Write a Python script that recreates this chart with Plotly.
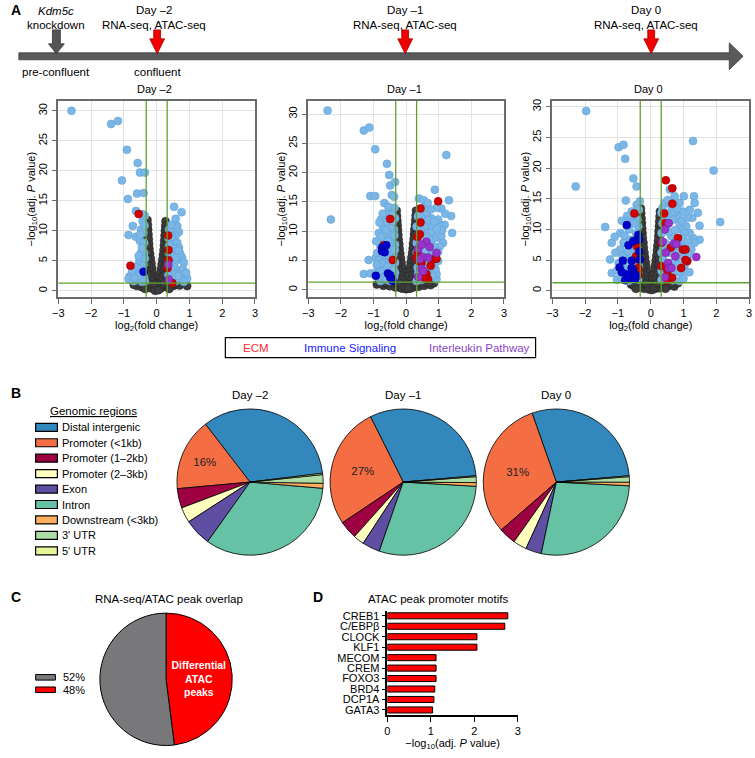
import plotly.graph_objects as go

W, H = 755, 758

# ---------------- data ----------------
fc_cut = 0.32   # log2 fold-change cut-off
p_cut = 1.3     # -log10(0.05)

volcano_days = ["Day –2", "Day –1", "Day 0"]

# Day -2 volcano: (log2 FC, -log10 adj P)
d2_ns = [(-0.28, 11.8), (-0.27, 11.0), (-0.26, 10.2), (-0.25, 9.4), (-0.24, 8.6), (-0.23, 7.8), (-0.22, 7.0),
         (-0.20, 6.2), (-0.18, 5.4), (-0.16, 4.6), (-0.14, 3.8), (-0.12, 3.0), (-0.10, 2.3), (-0.08, 1.6),
         (-0.29, 10.6), (-0.30, 9.0), (-0.29, 7.6), (-0.27, 6.4), (-0.26, 5.2), (-0.24, 4.2), (-0.22, 3.4),
         (-0.20, 2.6), (-0.18, 1.9), (-0.30, 4.5), (-0.30, 3.2), (-0.30, 2.0), (-0.27, 2.8),
         (0.27, 11.6), (0.26, 10.8), (0.25, 10.0), (0.24, 9.2), (0.23, 8.4), (0.22, 7.6), (0.21, 6.8),
         (0.19, 6.0), (0.17, 5.2), (0.15, 4.4), (0.13, 3.6), (0.11, 2.8), (0.09, 2.1), (0.07, 1.4),
         (0.29, 10.3), (0.30, 8.8), (0.29, 7.3), (0.28, 6.1), (0.26, 5.0), (0.24, 4.0), (0.22, 3.2),
         (0.20, 2.4), (0.17, 1.7), (0.30, 4.6), (0.30, 3.0), (0.30, 1.9), (0.27, 2.7),
         (-0.70, 1.0), (-0.60, 0.8), (-0.50, 1.1), (-0.45, 0.6), (-0.38, 0.9), (-0.30, 0.5), (-0.22, 0.8),
         (-0.15, 0.4), (-0.06, 0.7), (0.00, 0.2), (0.06, 0.5), (0.12, 0.9), (0.20, 0.6), (0.28, 1.0),
         (0.35, 0.7), (0.42, 1.1), (0.50, 0.8), (0.60, 1.0), (0.70, 0.9), (0.93, 0.8), (-0.02, 1.2),
         (0.03, 1.0), (-0.10, 1.1), (0.10, 0.3), (-0.25, 1.2), (0.22, 1.2), (-0.55, 1.2), (0.55, 1.2),
         (-0.35, 0.3), (0.38, 0.3), (-0.05, 0.0), (0.05, 0.1)]
d2_sig = [(-2.60, 30.0), (-1.39, 27.8), (-1.18, 28.3), (-0.91, 23.5), (-0.58, 21.3), (-0.51, 19.7),
          (-0.36, 19.7), (-1.06, 18.4), (-0.88, 15.3), (-0.60, 16.2), (-0.40, 16.3), (-0.63, 13.3),
          (0.53, 14.0), (0.76, 13.1), (-0.73, 10.8), (-0.86, 9.3), (-0.63, 9.0), (-0.51, 8.3), (-0.43, 11.6),
          (-0.48, 10.2), (-0.40, 9.7), (-0.38, 8.0), (-0.48, 6.3), (-0.38, 6.3), (-0.53, 4.9), (-0.40, 4.4),
          (-0.63, 3.0), (-0.83, 2.4), (-0.86, 2.0), (-0.58, 1.9), (-0.48, 3.0), (-0.38, 2.2), (-0.70, 1.6),
          (-0.45, 1.5), (-0.36, 12.5), (-0.44, 12.8), (-0.37, 10.9), (-0.45, 7.2), (-0.36, 5.4), (-0.42, 3.6),
          (-0.55, 2.5), (-0.68, 2.2), (-0.36, 1.6), (-0.65, 4.0), (-0.75, 3.3), (-0.55, 5.8), (-0.50, 9.4),
          (0.43, 9.7), (0.53, 10.8), (0.63, 10.8), (0.68, 9.8), (0.43, 8.5), (0.48, 7.4), (0.38, 6.3),
          (0.53, 6.0), (0.63, 8.0), (0.41, 5.2), (0.55, 4.7), (0.73, 5.2), (0.78, 5.5), (0.83, 4.7),
          (0.63, 3.5), (0.48, 3.0), (0.38, 3.8), (0.73, 3.0), (0.88, 2.2), (0.93, 2.0), (0.73, 1.9),
          (0.58, 1.6), (0.43, 1.6), (0.83, 1.5), (0.38, 10.2), (0.36, 8.8), (0.58, 9.2), (0.45, 11.0),
          (0.68, 7.2), (0.60, 5.6), (0.50, 4.0), (0.66, 2.5), (0.36, 2.6), (0.80, 3.6), (0.55, 7.0),
          (0.38, 7.5), (0.72, 6.2), (0.40, 4.6), (0.47, 9.0), (0.58, 12.0), (0.66, 6.7), (0.90, 3.0)]
d2_ecm = [(-0.55, 12.8), (-0.80, 4.2), (0.35, 9.2), (0.36, 6.8), (0.36, 5.1), (0.33, 3.8), (0.48, 1.3)]
d2_immune = [(-0.40, 3.2)]
d2_il = [(0.35, 4.4), (0.37, 1.9)]

# Day -1 volcano
d1_ns = [(-0.29, 13.5), (-0.28, 12.6), (-0.27, 11.8), (-0.26, 11.0), (-0.25, 10.2), (-0.24, 9.4), (-0.23, 8.6),
         (-0.21, 7.8), (-0.20, 7.0), (-0.18, 6.2), (-0.16, 5.4), (-0.14, 4.6), (-0.12, 3.8), (-0.10, 3.0),
         (-0.08, 2.3), (-0.30, 11.4), (-0.30, 9.8), (-0.29, 8.2), (-0.28, 6.8), (-0.26, 5.6), (-0.25, 4.4),
         (-0.23, 3.4), (-0.20, 2.6), (-0.17, 1.8), (-0.30, 3.0), (-0.30, 2.0), (-0.28, 5.0),
         (0.30, 13.5), (0.29, 12.7), (0.28, 11.9), (0.27, 11.1), (0.25, 10.3), (0.24, 9.5), (0.23, 8.7),
         (0.21, 7.9), (0.20, 7.1), (0.18, 6.3), (0.16, 5.5), (0.14, 4.7), (0.12, 3.9), (0.10, 3.1),
         (0.08, 2.4), (0.30, 11.0), (0.30, 9.4), (0.30, 7.8), (0.28, 6.6), (0.27, 5.4), (0.25, 4.3),
         (0.23, 3.3), (0.20, 2.5), (0.17, 1.8), (0.30, 4.0), (0.30, 2.6), (0.29, 1.6),
         (-0.90, 0.9), (-0.80, 1.1), (-0.70, 0.7), (-0.60, 1.0), (-0.50, 0.6), (-0.40, 1.1), (-0.33, 0.4),
         (-0.25, 0.8), (-0.17, 0.3), (-0.08, 0.9), (0.00, 0.1), (0.07, 0.6), (0.15, 1.0), (0.22, 0.4),
         (0.30, 0.9), (0.38, 0.5), (0.45, 1.1), (0.55, 0.7), (0.65, 1.0), (0.75, 0.8), (0.85, 1.1),
         (-0.03, 1.2), (0.03, 0.9), (-0.12, 0.2), (0.12, 0.2), (-0.45, 1.2), (0.50, 1.2), (-0.20, 1.2),
         (0.25, 1.2), (-0.05, 0.4), (0.05, 0.3), (-0.65, 1.2), (0.70, 1.2)]
d1_sig = [(-2.41, 30.6), (-2.31, 12.0), (-1.30, 27.2), (-1.13, 27.7), (-0.95, 24.0), (-0.59, 21.5),
          (-0.52, 19.6), (-0.49, 17.8), (-0.34, 18.4), (-1.10, 16.0), (-0.95, 16.0), (-0.67, 14.8),
          (-0.44, 16.2), (-0.37, 15.9), (-1.15, 5.1), (-1.30, 2.7), (-1.10, 2.8), (-0.93, 5.5),
          (-0.64, 12.0), (-0.71, 10.8), (-0.54, 9.7), (-0.44, 8.6), (-0.69, 8.0), (-0.79, 7.4), (-0.54, 6.9),
          (-0.39, 6.0), (-0.59, 5.2), (-0.69, 4.1), (-0.49, 3.5), (-0.34, 2.9), (-0.64, 2.4), (-0.79, 1.5),
          (-0.49, 1.5), (-0.84, 9.7), (-0.77, 12.0), (-0.57, 13.1), (-0.44, 13.6), (-0.34, 12.2),
          (-0.37, 10.3), (-0.34, 7.7), (-0.51, 11.1), (-0.61, 8.9), (-0.89, 6.3), (-0.74, 5.8), (-0.84, 3.8),
          (-0.95, 2.9), (-0.54, 4.6), (-0.41, 4.1), (-0.69, 3.2), (-0.34, 4.6), (-0.49, 8.0), (-0.69, 9.4),
          (-0.36, 14.0), (-0.42, 12.9), (-0.58, 11.6), (-0.47, 10.6), (-0.62, 10.2), (-0.78, 9.0),
          (-0.56, 8.3), (-0.36, 9.3), (-0.66, 7.0), (-0.85, 5.0), (-0.48, 6.6), (-0.62, 6.0), (-0.45, 5.3),
          (-0.75, 4.5), (-0.58, 3.9), (-0.90, 4.3), (-0.38, 3.4), (-0.70, 2.0), (-0.86, 2.2), (-0.60, 1.7),
          (-0.37, 2.2), (-0.55, 14.2), (-0.72, 13.0), (-0.82, 11.5), (-0.92, 8.3), (-0.41, 11.7),
          (-0.52, 7.4), (-0.35, 6.8),
          (1.23, 23.0), (0.88, 17.1), (0.39, 15.6), (0.54, 15.3), (1.31, 15.3), (1.38, 12.6), (1.41, 9.7),
          (1.08, 13.9), (0.93, 14.0), (1.18, 11.1), (1.01, 11.2), (1.13, 8.0), (0.75, 13.7), (0.62, 12.8),
          (0.47, 12.2), (0.72, 10.8), (0.83, 9.4), (0.93, 8.9), (0.52, 10.3), (0.37, 9.1), (0.40, 7.4),
          (0.57, 8.0), (1.03, 7.4), (0.72, 6.3), (0.83, 4.1), (0.52, 3.8), (0.37, 5.2), (0.37, 2.9),
          (0.52, 1.8), (0.72, 2.1), (0.93, 1.8), (0.32, 1.5), (0.93, 2.7), (0.67, 2.9), (0.88, 5.8),
          (0.98, 4.9), (1.08, 9.2), (0.52, 11.4), (0.32, 10.8), (0.67, 9.7), (0.77, 8.0), (0.47, 6.3),
          (0.62, 5.2), (0.32, 6.3), (0.32, 8.0), (0.42, 13.8), (0.57, 10.8), (0.77, 12.2), (0.98, 12.0),
          (0.36, 12.5), (0.58, 14.2), (0.68, 11.9), (0.86, 11.6), (0.45, 10.0), (0.62, 9.0), (0.78, 9.9),
          (0.36, 8.4), (0.52, 7.4), (0.68, 7.0), (0.86, 7.3), (0.42, 6.0), (0.58, 6.6), (0.78, 5.6),
          (0.98, 6.5), (0.55, 4.4), (0.70, 4.8), (0.90, 3.5), (0.42, 3.0), (0.60, 3.6), (0.80, 2.4),
          (0.45, 1.7), (0.35, 3.8), (1.10, 10.2), (1.20, 13.0), (0.94, 10.4), (0.40, 12.9), (0.66, 14.8)]
d1_ecm = [(-0.69, 7.6), (-0.49, 12.1), (-0.41, 5.1), (0.44, 13.9), (0.44, 11.5), (0.42, 9.5), (0.35, 9.0),
          (0.98, 15.1), (0.35, 6.3), (0.32, 5.5), (0.39, 4.9), (0.47, 4.6), (0.75, 4.1), (0.83, 5.2),
          (0.93, 5.3), (0.62, 2.7), (0.67, 1.8), (0.57, 2.0)]
d1_immune = [(-0.74, 7.2), (-0.74, 6.6), (-0.61, 7.6), (-0.66, 6.4), (-0.93, 2.4), (-0.56, 2.8),
             (-0.49, 2.5), (-0.44, 1.9), (-0.41, 1.5), (-0.49, 2.1)]
d1_il = [(0.62, 8.2), (0.72, 7.3), (0.37, 7.0), (0.93, 6.3), (0.67, 5.5), (0.50, 5.6), (0.42, 5.2),
         (0.47, 3.6), (0.52, 3.2), (0.37, 2.2), (0.47, 7.7)]

# Day 0 volcano
d0_ns = [(-0.30, 13.4), (-0.29, 12.6), (-0.28, 11.8), (-0.27, 11.0), (-0.26, 10.2), (-0.25, 9.4), (-0.24, 8.6),
         (-0.22, 7.8), (-0.21, 7.0), (-0.19, 6.2), (-0.17, 5.4), (-0.15, 4.6), (-0.13, 3.8), (-0.11, 3.0),
         (-0.09, 2.3), (-0.30, 11.2), (-0.31, 9.6), (-0.30, 8.0), (-0.29, 6.6), (-0.27, 5.4), (-0.25, 4.3),
         (-0.23, 3.4), (-0.20, 2.6), (-0.17, 1.8), (-0.31, 3.2), (-0.30, 2.1), (-0.29, 4.8),
         (0.28, 12.9), (0.27, 12.1), (0.26, 11.3), (0.25, 10.5), (0.24, 9.7), (0.23, 8.9), (0.22, 8.1),
         (0.20, 7.3), (0.19, 6.5), (0.17, 5.7), (0.15, 4.9), (0.13, 4.1), (0.11, 3.3), (0.09, 2.6),
         (0.07, 1.9), (0.29, 10.8), (0.30, 9.2), (0.29, 7.6), (0.28, 6.3), (0.26, 5.2), (0.24, 4.2),
         (0.22, 3.3), (0.19, 2.5), (0.15, 1.7), (0.30, 3.8), (0.30, 2.5), (0.28, 1.6),
         (-0.60, 1.0), (-0.50, 0.7), (-0.42, 1.1), (-0.35, 0.5), (-0.28, 0.9), (-0.20, 0.3), (-0.12, 0.8),
         (-0.05, 0.2), (0.02, 0.6), (0.08, 1.0), (0.14, 0.3), (0.20, 0.8), (0.27, 0.4), (0.34, 1.0),
         (0.41, 0.6), (0.48, 1.1), (0.56, 0.8), (0.64, 1.0), (0.72, 0.7), (0.83, 1.2), (-0.02, 1.1),
         (0.04, 0.1), (-0.08, 0.5), (0.10, 0.5), (-0.30, 1.2), (0.30, 1.2), (-0.15, 1.2), (0.18, 1.2),
         (-0.55, 1.2), (0.60, 1.2), (-0.45, 0.3), (0.45, 0.3)]
d0_sig = [(-1.97, 29.3), (-2.29, 17.0), (-0.98, 23.4), (-0.83, 23.8), (-0.78, 21.5), (-0.53, 18.3),
          (-0.43, 17.0), (1.29, 24.4), (1.92, 19.6), (1.01, 15.4), (1.32, 15.4), (2.12, 11.2), (1.49, 10.6),
          (1.49, 8.3), (1.29, 8.6), (-1.39, 10.4), (-1.19, 7.8), (-1.24, 5.1), (-0.76, 14.7), (-0.33, 14.6),
          (-0.58, 12.9), (-0.43, 14.0), (-0.73, 10.5), (-0.93, 9.4), (-0.83, 7.8), (-0.93, 6.7),
          (-0.63, 8.3), (-0.53, 6.7), (-0.78, 5.9), (-0.98, 4.5), (-0.88, 3.5), (-0.68, 4.0), (-0.58, 2.7),
          (-0.73, 2.1), (-0.43, 4.5), (-0.38, 10.5), (-0.40, 11.6), (-0.63, 11.9), (-0.48, 7.8),
          (-1.08, 6.2), (-1.19, 2.9), (-1.03, 1.8), (-0.38, 2.9), (-0.38, 1.8),
          (-0.36, 13.2), (-0.50, 11.0), (-0.66, 10.0), (-0.80, 9.0), (-0.45, 9.3), (-0.56, 7.3),
          (-0.70, 6.4), (-0.86, 5.6), (-0.40, 6.8), (-0.62, 5.3), (-1.02, 3.3), (-0.78, 3.2), (-0.50, 4.2),
          (-0.90, 2.2), (-0.68, 1.6), (-0.55, 2.1), (-0.36, 4.0), (-0.72, 12.2), (-0.88, 11.4), (-1.10, 8.8),
          (0.58, 16.5), (0.73, 15.4), (0.43, 14.3), (0.63, 13.8), (0.88, 14.3), (0.98, 12.9), (1.19, 13.2),
          (1.27, 11.9), (0.83, 12.1), (1.08, 10.5), (1.19, 9.4), (0.93, 10.0), (0.68, 11.6), (0.48, 10.5),
          (0.33, 9.4), (0.43, 7.8), (0.63, 8.9), (0.83, 7.8), (1.03, 7.3), (1.24, 6.7), (0.98, 5.6),
          (0.78, 5.1), (0.58, 6.2), (0.38, 5.1), (0.48, 3.7), (0.73, 2.9), (0.93, 2.9), (0.58, 2.1),
          (0.33, 1.8), (0.88, 1.6), (1.03, 4.0), (1.13, 5.1), (0.33, 12.7), (0.43, 11.6), (0.88, 11.0),
          (1.34, 7.8), (0.33, 6.2), (0.33, 3.2), (0.68, 7.3), (1.03, 9.4), (1.34, 14.3), (1.44, 12.7),
          (0.36, 11.0), (0.52, 12.6), (0.72, 12.8), (0.55, 9.6), (0.75, 9.9), (0.98, 8.4), (1.14, 8.0),
          (0.38, 7.0), (0.52, 7.4), (0.72, 6.2), (0.88, 6.5), (1.15, 6.0), (0.45, 4.5), (0.65, 4.6),
          (0.85, 4.2), (1.18, 3.0), (0.40, 2.6), (0.68, 1.7), (1.00, 2.0), (0.80, 13.4), (0.95, 11.4),
          (1.12, 11.9), (0.36, 13.5), (0.52, 14.8), (0.85, 3.1)]
d0_ecm = [(-0.50, 12.6), (-0.38, 8.6), (-0.38, 8.2), (-0.43, 7.3), (-0.45, 5.6), (-0.40, 5.1), (-0.38, 3.7),
          (-0.38, 3.2), (-0.38, 2.5), (0.46, 18.0), (0.66, 16.7), (0.66, 14.2), (0.41, 12.6), (0.43, 11.0),
          (0.83, 8.6), (0.33, 7.8), (0.61, 7.0), (0.98, 6.7), (1.06, 6.7), (1.11, 4.8), (0.93, 3.7),
          (0.33, 4.0), (0.51, 3.2), (0.51, 1.7), (0.65, 2.1), (1.06, 5.0)]
d0_immune = [(-0.73, 10.7), (-0.68, 7.4), (-0.53, 8.1), (-0.38, 9.1), (-0.35, 8.3), (-0.35, 6.4), (-0.33, 5.1),
             (-0.85, 4.9), (-0.58, 4.9), (-0.95, 3.8), (-0.88, 3.0), (-0.73, 2.7), (-0.63, 2.1), (-0.53, 3.2),
             (-0.48, 1.8), (-0.58, 3.7), (-0.78, 1.7), (-0.43, 2.4)]
d0_il = [(0.55, 11.0), (0.43, 10.0), (0.36, 8.0), (0.71, 7.7), (0.78, 7.6), (0.46, 6.2), (0.53, 4.5),
         (0.55, 3.7), (0.75, 5.6), (1.39, 5.5), (0.43, 2.2), (0.63, 3.7)]

gene_sets = ["ECM", "Immune Signaling", "Interleukin Pathway"]

# B: genomic annotation of ATAC peaks (%)
region_labels = ["Distal intergenic", "Promoter (<1kb)", "Promoter (1–2kb)", "Promoter (2–3kb)", "Exon",
                 "Intron", "Downstream (<3kb)", "3' UTR", "5' UTR"]
pie_days = ["Day –2", "Day –1", "Day 0"]
regions_d2 = [33.5, 16.0, 4.3, 3.4, 6.0, 33.5, 1.1, 1.9, 0.3]
regions_d1 = [31.0, 27.0, 4.0, 2.4, 3.9, 29.4, 0.8, 1.3, 0.2]
regions_d0 = [29.0, 31.0, 3.8, 3.0, 3.5, 27.5, 0.8, 1.2, 0.2]

# C: RNA-seq / ATAC overlap (%)
overlap_labels = ["Differential ATAC peaks", "Other"]
overlap_values = [48, 52]

# D: promoter motifs
motifs = ["CREB1", "C/EBPβ", "CLOCK", "KLF1", "MECOM", "CREM", "FOXO3", "BRD4", "DCP1A", "GATA3"]
motif_scores = [2.77, 2.70, 2.06, 2.06, 1.12, 1.12, 1.12, 1.09, 1.07, 1.04]

# ---------------- styling ----------------
FONT = "Arial, 'Liberation Sans', sans-serif"
C_NS, C_SIG = "#3c3c3c", "#7ab6e6"
C_ECM, C_IMM, C_IL = "#d00000", "#0000cc", "#9933cc"
GREEN = "#5ea332"
region_colors = ["#3288BD", "#F46D43", "#9E0142", "#FFFFBF", "#5E4FA2", "#66C2A5", "#FDAE61", "#ABDDA4",
                 "#E6F598"]


def px(x):
    return x / W


def py(y):
    return 1 - y / H


def label(x, y, text, size=11, color="black", xanchor="center", **kw):
    return dict(x=px(x), y=py(y), xref="paper", yref="paper", text=text, showarrow=False,
                font=dict(size=size, color=color, family=FONT), xanchor=xanchor, yanchor="middle", **kw)


def down_arrow(cx, top, neck, tip, shaft, head, fill, edge):
    pts = [(cx - shaft / 2, top), (cx + shaft / 2, top), (cx + shaft / 2, neck), (cx + head / 2, neck),
           (cx, tip), (cx - head / 2, neck), (cx - shaft / 2, neck)]
    path = "M " + " L ".join(f"{px(a):.5f},{py(b):.5f}" for a, b in pts) + " Z"
    return dict(type="path", xref="paper", yref="paper", path=path, fillcolor=fill,
                line=dict(color=edge, width=0.8))


fig = go.Figure()

# ---------------- A: volcano plots ----------------
volcanoes = [
    (d2_ns, d2_sig, d2_ecm, d2_immune, d2_il),
    (d1_ns, d1_sig, d1_ecm, d1_immune, d1_il),
    (d0_ns, d0_sig, d0_ecm, d0_immune, d0_il),
]
vol_x = [(53, 252), (306, 504), (553, 752)]
vol_yrange = [[-1.0, 31.7], [-1.2, 32.3], [-1.0, 31.0]]
vol_top, vol_bot = 99, 296

groups = [(C_NS, "#222222"), (C_SIG, "#5f9fd4"), (C_ECM, "#900000"), (C_IMM, "#000088"), (C_IL, "#6a1f99")]

shapes = []
annotations = []

for i, sets in enumerate(volcanoes):
    ax = "" if i == 0 else str(i + 1)
    for pts, (col, edge) in zip(sets, groups):
        fig.add_trace(go.Scatter(
            x=[p[0] for p in pts], y=[p[1] for p in pts], mode="markers",
            marker=dict(size=8, color=col, line=dict(color=edge, width=0.5)),
            xaxis="x" + ax, yaxis="y" + ax, showlegend=False, hoverinfo="skip",
        ))
    x0, x1 = vol_x[i]
    fig.update_layout(**{
        "xaxis" + ax: dict(
            domain=[px(x0), px(x1)], anchor="y" + ax, range=[-3, 3], dtick=1,
            showgrid=True, gridcolor="#e2e2e2", zeroline=False,
            showline=True, mirror=True, linecolor="#6b6b6b", linewidth=1.5,
            ticks="outside", ticklen=5, tickcolor="#6b6b6b",
            tickfont=dict(size=11, color="black"),
            title=dict(text="log<sub>2</sub>(fold change)", font=dict(size=11, color="black"), standoff=0),
        ),
        "yaxis" + ax: dict(
            domain=[py(vol_bot), py(vol_top)], anchor="x" + ax, range=vol_yrange[i], dtick=5,
            showgrid=True, gridcolor="#e2e2e2", zeroline=False,
            showline=True, mirror=True, linecolor="#6b6b6b", linewidth=1.5,
            ticks="outside", ticklen=5, tickcolor="#6b6b6b", tickangle=-90,
            tickfont=dict(size=11, color="black"),
        ),
    })
    for xv in (-fc_cut, fc_cut):
        shapes.append(dict(type="line", xref="x" + ax, yref="y" + ax + " domain", x0=xv, x1=xv, y0=0, y1=1,
                           line=dict(color=GREEN, width=1.3)))
    shapes.append(dict(type="line", xref="x" + ax + " domain", yref="y" + ax, x0=0, x1=1, y0=p_cut, y1=p_cut,
                       line=dict(color=GREEN, width=1.3)))
    annotations.append(label((x0 + x1) / 2 - 2, 87, volcano_days[i], size=11))
    annotations.append(label(x0 - 27, (vol_top + vol_bot) / 2, "−log<sub>10</sub>(adj. <i>P</i> value)",
                             textangle=-90))

# gene set key box
shapes.append(dict(type="rect", xref="paper", yref="paper", x0=px(222), x1=px(536), y0=py(357), y1=py(337),
                   line=dict(color="black", width=1.2), fillcolor="white"))
for name, xc, col in zip(gene_sets, [253, 348, 479], ["#ff2a2a", "#2222ff", "#8a44c4"]):
    annotations.append(label(xc, 347.5, name, size=11.5, color=col))

# ---------------- A: timeline ----------------
bar = [(13, 51), (732, 51), (732, 41), (746, 54.5), (732, 68), (732, 58), (13, 58)]
shapes.append(dict(type="path", xref="paper", yref="paper",
                   path="M " + " L ".join(f"{px(a):.5f},{py(b):.5f}" for a, b in bar) + " Z",
                   fillcolor="#5a5a5a", line=dict(color="#3c3c3c", width=0.8)))
shapes.append(down_arrow(51, 28, 42, 52, 8, 16, "#555555", "#333333"))
for cx in (153, 404, 653):
    shapes.append(down_arrow(cx, 28, 37, 52, 7, 15, "#f00000", "#a80000"))

annotations += [
    label(51, 9, "<i>Kdm5c</i>", size=11.5), label(51, 23, "knockdown", size=11.5),
    label(150, 8, "Day –2", size=11.5), label(150, 23, "RNA-seq, ATAC-seq", size=11.5),
    label(404, 8, "Day –1", size=11.5), label(404, 23, "RNA-seq, ATAC-seq", size=11.5),
    label(648, 8, "Day 0", size=11.5), label(648, 23, "RNA-seq, ATAC-seq", size=11.5),
    label(51, 70, "pre-confluent", size=11.5), label(153, 70, "confluent", size=11.5),
    label(10, 8, "<b>A</b>", size=14),
]

# ---------------- B: genomic region pies ----------------
pie_centers = [247, 402, 557]
pie_cy, pie_r = 482, 74
pie_start = [83, 85, 85]   # where the first slice begins (deg clockwise from 12 o'clock)
for vals, cx, day, start in zip([regions_d2, regions_d1, regions_d0], pie_centers, pie_days, pie_start):
    txt = [f"{v:.0f}%" if lab == "Promoter (<1kb)" else "" for lab, v in zip(region_labels, vals)]
    rot = start - vals[0] * 360 / sum(vals)
    fig.add_trace(go.Pie(
        values=vals, labels=region_labels, text=txt, textinfo="text", textposition="inside",
        insidetextorientation="horizontal", sort=False, direction="counterclockwise", rotation=rot,
        marker=dict(colors=region_colors, line=dict(color="black", width=0.8)),
        textfont=dict(size=11.5, color="#222222", family=FONT, weight="normal"),
        domain=dict(x=[px(cx - pie_r), px(cx + pie_r)], y=[py(pie_cy + pie_r), py(pie_cy - pie_r)]),
        showlegend=False, hoverinfo="skip",
    ))
    annotations.append(label(cx, 395, day, size=11.5))

annotations.append(label(10, 393, "<b>B</b>", size=14))
annotations.append(label(89, 411, "<u>Genomic regions</u>", size=11.5))
for k, (lab, col) in enumerate(zip(region_labels, region_colors)):
    yc = 427 + k * 15.5
    shapes.append(dict(type="rect", xref="paper", yref="paper", x0=px(30), x1=px(52), y0=py(yc + 4),
                       y1=py(yc - 4), fillcolor=col, line=dict(color="black", width=1.2)))
    annotations.append(label(55, yc, lab, xanchor="left"))

# ---------------- C: overlap pie ----------------
overlap_colors = ["#ff0000", "#78787b"]
fig.add_trace(go.Pie(
    values=overlap_values, labels=overlap_labels, text=["<b>Differential<br>ATAC<br>peaks</b>", ""],
    textinfo="text", textposition="inside", insidetextorientation="horizontal",
    sort=False, direction="clockwise", rotation=0,
    marker=dict(colors=overlap_colors, line=dict(color="black", width=1)),
    textfont=dict(size=12, color="white", family=FONT),
    domain=dict(x=[px(95), px(229)], y=[py(747), py(613)]),
    showlegend=False, hoverinfo="skip",
))
annotations.append(label(10, 597, "<b>C</b>", size=14))
annotations.append(label(165, 599, "RNA-seq/ATAC peak overlap", size=11.5))
for k, idx in enumerate([1, 0]):
    yc = 678 + k * 12.5
    shapes.append(dict(type="rect", xref="paper", yref="paper", x0=px(30), x1=px(50), y0=py(yc + 2.8),
                       y1=py(yc - 2.8), fillcolor=overlap_colors[idx], line=dict(color="black", width=1)))
    annotations.append(label(56, yc, f"{overlap_values[idx]}%", xanchor="left"))

# ---------------- D: motif bars ----------------
fig.add_trace(go.Bar(
    x=motif_scores, y=motifs, orientation="h", width=0.58,
    marker=dict(color="#ff0000", line=dict(color="black", width=1)),
    xaxis="x4", yaxis="y4", showlegend=False, hoverinfo="skip",
))
fig.update_layout(
    xaxis4=dict(domain=[px(386), px(518)], anchor="y4", range=[0, 3], tickvals=[0, 1, 2, 3],
                showgrid=False, zeroline=False, showline=True, linecolor="black", linewidth=1.5,
                ticks="outside", ticklen=5, tickcolor="black", tickfont=dict(size=11, color="black"),
                title=dict(text="−log<sub>10</sub>(adj. <i>P</i> value)", font=dict(size=11, color="black"),
                           standoff=0)),
    yaxis4=dict(domain=[py(716), py(611)], anchor="x4", type="category", range=[9.5, -0.5],
                tickmode="array", tickvals=motifs, ticktext=motifs,
                showgrid=False, zeroline=False, showline=True, linecolor="black", linewidth=1.5,
                ticks="outside", ticklen=4, tickcolor="black", tickfont=dict(size=11, color="black")),
)
annotations.append(label(316, 597, "<b>D</b>", size=14))
annotations.append(label(437, 599, "ATAC peak promoter motifs", size=11.5))

fig.update_layout(
    width=W, height=H, autosize=False,
    margin=dict(l=0, r=0, t=0, b=0),
    paper_bgcolor="white", plot_bgcolor="white",
    font=dict(family=FONT, size=11, color="black"),
    shapes=shapes, annotations=annotations,
)

# the page body has a default 8px margin; drop it so the figure sits at the window origin
fig.write_html("out.html", config={"displayModeBar": False},
               post_script="document.body.style.margin = '0';")
